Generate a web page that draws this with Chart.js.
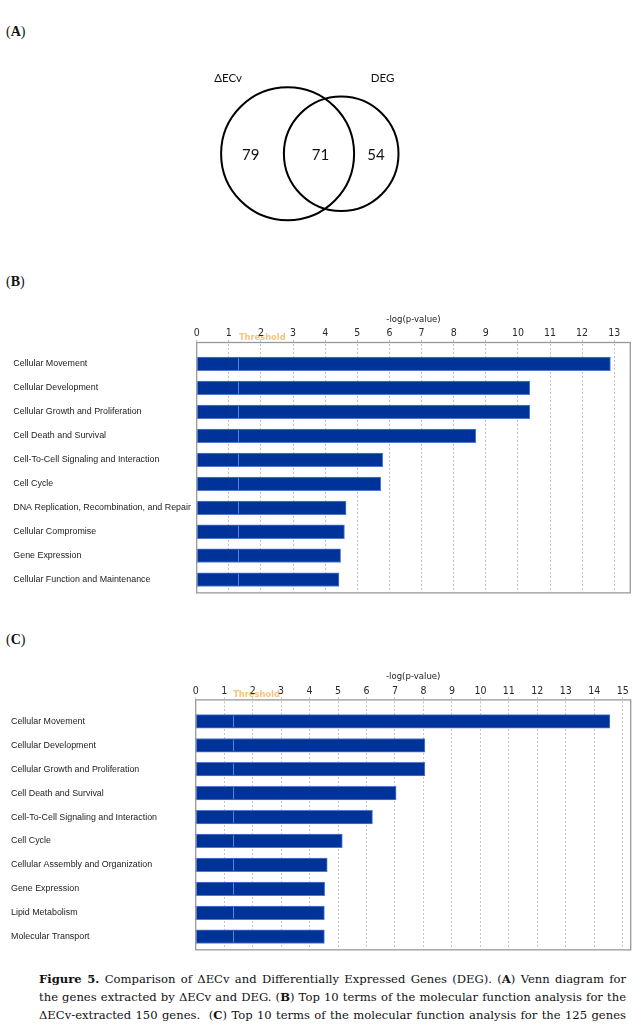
<!DOCTYPE html>
<html>
<head>
<meta charset="utf-8">
<script src="https://cdn.jsdelivr.net/npm/chart.js@4.4.0/dist/chart.umd.min.js"></script>
<style>
  body { margin: 0; background: #fff; }
  #page { position: relative; width: 636px; height: 1033px; overflow: hidden; }
  .box { position: absolute; left: 0; width: 636px; }
  .tag { position: absolute; left: 6px; font: 14px "Liberation Serif", serif; color: #111; }
  .tag b { font-weight: bold; }
  .caption { position: absolute; left: 39px; width: 587px; top: 970px;
    font: 11.6px/18px "DejaVu Serif", serif; color: #111; }
  .caption div { text-align: justify; text-align-last: justify; white-space: nowrap; }
</style>
</head>
<body>
<div id="page">
  <div class="tag" style="top:24px">(<b>A</b>)</div>
  <div class="box" style="top:0;height:260px"><canvas id="vennChart"></canvas></div>

  <div class="tag" style="top:274px">(<b>B</b>)</div>
  <div class="box" style="top:300px;height:300px"><canvas id="chartB"></canvas></div>

  <div class="tag" style="top:632px">(<b>C</b>)</div>
  <div class="box" style="top:657px;height:300px"><canvas id="chartC"></canvas></div>

  <div class="caption">
    <div><b>Figure 5.</b> Comparison of ΔECv and Differentially Expressed Genes (DEG). (<b>A</b>) Venn diagram for</div>
    <div>the genes extracted by ΔECv and DEG. (<b>B</b>) Top 10 terms of the molecular function analysis for the</div>
    <div>ΔECv-extracted 150 genes.&nbsp; (<b>C</b>) Top 10 terms of the molecular function analysis for the 125 genes</div>
  </div>
</div>

<script>
// --- data ---
const vennSets = ["ΔECv", "DEG"];
const vennCounts = [79, 71, 54]; // ΔECv only, both, DEG only

const termsB = [
  "Cellular Movement",
  "Cellular Development",
  "Cellular Growth and Proliferation",
  "Cell Death and Survival",
  "Cell-To-Cell Signaling and Interaction",
  "Cell Cycle",
  "DNA Replication, Recombination, and Repair",
  "Cellular Compromise",
  "Gene Expression",
  "Cellular Function and Maintenance",
];
const valuesB = [12.88, 10.37, 10.37, 8.69, 5.79, 5.73, 4.65, 4.6, 4.48, 4.43];

const termsC = [
  "Cellular Movement",
  "Cellular Development",
  "Cellular Growth and Proliferation",
  "Cell Death and Survival",
  "Cell-To-Cell Signaling and Interaction",
  "Cell Cycle",
  "Cellular Assembly and Organization",
  "Gene Expression",
  "Lipid Metabolism",
  "Molecular Transport",
];
const valuesC = [14.55, 8.05, 8.05, 7.04, 6.21, 5.15, 4.62, 4.53, 4.52, 4.52];

const threshold = 1.3;
const axisTitle = "-log(p-value)";

// --- venn (A) ---
// layout of the diagram, in canvas px through the scales below
const vennLayout = {
  circles: [
    { cx: 287.6, cy: 153.8, r: 66.5 },
    { cx: 341.2, cy: 153.8, r: 57.3 },
  ],
  setLabels: [
    { x: 228, y: 78 },
    { x: 382.5, y: 78 },
  ],
  counts: [
    { x: 250.7, y: 155 },
    { x: 320.4, y: 155 },
    { x: 375.9, y: 155 },
  ],
};

const vennPlugin = {
  id: "venn",
  afterDatasetsDraw(chart) {
    const { ctx, scales } = chart;
    const xs = scales.x, ys = scales.y;
    ctx.save();
    ctx.strokeStyle = "#000";
    ctx.lineWidth = 2;
    vennLayout.circles.forEach((c) => {
      const px = xs.getPixelForValue(c.cx);
      const py = ys.getPixelForValue(c.cy);
      const r = xs.getPixelForValue(c.cx + c.r) - px;
      ctx.beginPath();
      ctx.arc(px, py, r, 0, Math.PI * 2);
      ctx.stroke();
    });
    ctx.fillStyle = "#111";
    ctx.textAlign = "center";
    ctx.textBaseline = "middle";
    ctx.font = '11.5px "Lato", "Open Sans", sans-serif';
    vennSets.forEach((name, i) => {
      const p = vennLayout.setLabels[i];
      ctx.fillText(name, xs.getPixelForValue(p.x), ys.getPixelForValue(p.y));
    });
    ctx.font = '15px "Lato", "Open Sans", sans-serif';
    const meta = chart.getDatasetMeta(0);
    meta.data.forEach((pt, i) => {
      ctx.fillText(String(vennCounts[i]), pt.x, pt.y);
    });
    ctx.restore();
  },
};

new Chart(document.getElementById("vennChart"), {
  type: "scatter",
  data: {
    datasets: [
      {
        data: vennCounts.map((n, i) => ({ x: vennLayout.counts[i].x, y: vennLayout.counts[i].y })),
        pointRadius: 0,
      },
    ],
  },
  options: {
    responsive: true,
    maintainAspectRatio: false,
    animation: false,
    events: [],
    layout: { padding: 0 },
    plugins: { legend: { display: false }, tooltip: { enabled: false } },
    scales: {
      x: { type: "linear", min: 0, max: 636, display: false },
      y: { type: "linear", min: 0, max: 260, reverse: true, display: false },
    },
  },
  plugins: [vennPlugin],
});

// --- bar charts (B, C) ---
const frameTopGap = 9.5;
const frameBottomGap = 1.2;

const ipaPlugin = {
  id: "ipa",
  beforeDraw(chart) {
    const { ctx, chartArea, scales } = chart;
    const x = scales.x.getPixelForValue(threshold);
    ctx.save();
    ctx.fillStyle = "#f8c27d";
    ctx.font = 'bold 8.3px "DejaVu Sans", sans-serif';
    ctx.textAlign = "left";
    ctx.textBaseline = "middle";
    ctx.fillText("Threshold", x + 0.5, chartArea.top - frameTopGap - 5);
    ctx.restore();
  },
  afterDatasetsDraw(chart) {
    const { ctx, scales } = chart;
    const x = Math.round(scales.x.getPixelForValue(threshold)) + 0.5;
    ctx.save();
    ctx.strokeStyle = "#5d82cf";
    ctx.lineWidth = 1;
    chart.getDatasetMeta(0).data.forEach((bar) => {
      const h = bar.height / 2;
      ctx.beginPath();
      ctx.moveTo(x, bar.y - h + 1);
      ctx.lineTo(x, bar.y + h - 1);
      ctx.stroke();
    });
    ctx.restore();
  },
  afterDraw(chart) {
    const { ctx, chartArea } = chart;
    ctx.save();
    ctx.strokeStyle = "#999";
    ctx.lineWidth = 1.3;
    ctx.strokeRect(
      chartArea.left,
      chartArea.top - frameTopGap,
      chartArea.right - chartArea.left,
      chartArea.bottom - chartArea.top + frameTopGap + frameBottomGap
    );
    ctx.restore();
  },
};

function makeIpaChart(canvasId, terms, values, opts) {
  return new Chart(document.getElementById(canvasId), {
    type: "bar",
    data: {
      labels: terms,
      datasets: [
        {
          data: values,
          backgroundColor: "#003399",
          borderColor: "#4f7bd3",
          borderWidth: 1,
          borderSkipped: false,
          barThickness: 13.6,
        },
      ],
    },
    options: {
      indexAxis: "y",
      responsive: true,
      maintainAspectRatio: false,
      animation: false,
      events: [],
      layout: {
        padding: { left: opts.labelLeft, right: opts.padRight, top: 0, bottom: opts.padBottom },
      },
      plugins: { legend: { display: false }, tooltip: { enabled: false } },
      scales: {
        x: {
          type: "linear",
          position: "top",
          min: 0,
          max: opts.max,
          afterFit: (s) => { s.height = opts.axisHeight; },
          afterBuildTicks: (s) => {
            s.ticks = s.ticks.filter((t) => Number.isInteger(t.value));
          },
          ticks: {
            stepSize: 1,
            includeBounds: false,
            padding: 0.3,
            color: "#2a2a2a",
            font: { family: '"DejaVu Sans Condensed", "Liberation Sans Narrow", "Liberation Sans", sans-serif', size: 10.5 },
          },
          grid: {
            color: "#c4c4c4",
            lineWidth: 1,
            tickBorderDash: [2, 2],
            tickColor: "#c4c4c4",
            tickLength: 12,
            drawTicks: true,
          },
          border: { display: false, dash: [2, 2] },
          title: {
            display: true,
            text: axisTitle,
            color: "#222",
            font: { family: '"DejaVu Sans Condensed", "Liberation Sans", sans-serif', size: 9.5 },
            padding: { top: 14.3, bottom: 0 },
          },
        },
        y: {
          type: "category",
          afterFit: (s) => { s.width = opts.plotLeft - opts.labelLeft; },
          ticks: {
            crossAlign: "far",
            color: "#222",
            font: { family: '"Liberation Sans", sans-serif', size: 8.9 },
          },
          grid: { display: false },
          border: { display: false },
        },
      },
    },
    plugins: [ipaPlugin],
  });
}

makeIpaChart("chartB", termsB, valuesB, {
  max: 13.5,
  labelLeft: 13.3,
  plotLeft: 196.7,
  padRight: 5.7,
  padBottom: 4.85,
  axisHeight: 52,
});

makeIpaChart("chartC", termsC, valuesC, {
  max: 15.28,
  labelLeft: 11,
  plotLeft: 195.7,
  padRight: 5.3,
  padBottom: 1.4,
  axisHeight: 52.4,
});
</script>
</body>
</html>
